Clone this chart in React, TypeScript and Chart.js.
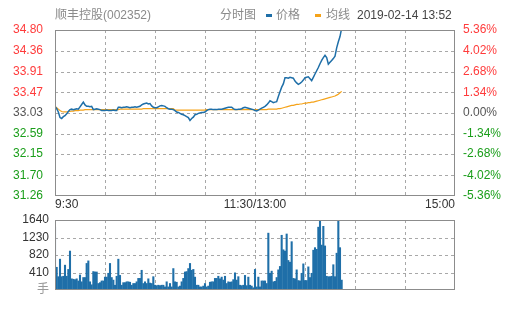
import React, { useEffect, useRef } from "react";
import { Chart, registerables } from "chart.js";
Chart.register(...registerables);

const priceTicks = [31.26, 31.7, 32.15, 32.59, 33.03, 33.47, 33.91, 34.36, 34.8];
const priceTickLabels = ["31.26", "31.70", "32.15", "32.59", "33.03", "33.47", "33.91", "34.36", "34.80"];
const pctTickLabels = ["-5.36%", "-4.02%", "-2.68%", "-1.34%", "0.00%", "1.34%", "2.68%", "4.02%", "5.36%"];
const timeTicks = [0, 30, 60, 90, 120, 150, 180, 210, 240];
const timeTickLabels = ["9:30", "", "", "", "11:30/13:00", "", "", "", "15:00"];
const volTicks = [0, 410, 820, 1230, 1640];
const volTickLabels = ["手", "410", "820", "1230", "1640"];

const price = [
  33.17, 33.12, 33.05, 32.93, 32.91, 32.95, 32.97, 33.01, 33.06, 33.1,
  33.11, 33.1, 33.11, 33.12, 33.11, 33.16, 33.21, 33.26, 33.2, 33.17,
  33.17, 33.16, 33.17, 33.1, 33.11, 33.12, 33.11, 33.1, 33.08, 33.08,
  33.08, 33.09, 33.08, 33.08, 33.08, 33.09, 33.08, 33.08, 33.15, 33.15,
  33.14, 33.15, 33.15, 33.16, 33.15, 33.14, 33.15, 33.15, 33.16, 33.15,
  33.16, 33.17, 33.2, 33.22, 33.23, 33.24, 33.22, 33.23, 33.18, 33.15,
  33.14, 33.14, 33.16, 33.18, 33.19, 33.18, 33.17, 33.14, 33.12, 33.11,
  33.11, 33.1, 33.08, 33.05, 33.04, 33.02, 33.0, 32.99, 32.97, 32.95,
  32.93, 32.87, 32.91, 32.94, 32.99, 33.0, 33.02, 33.03, 33.04, 33.04,
  33.05, 33.08, 33.1, 33.11, 33.11, 33.1, 33.1, 33.1, 33.11, 33.11,
  33.11, 33.12, 33.13, 33.14, 33.15, 33.15, 33.15, 33.12, 33.1, 33.1,
  33.11, 33.11, 33.12, 33.14, 33.15, 33.14, 33.13, 33.12, 33.11, 33.1,
  33.08, 33.07, 33.09, 33.11, 33.13, 33.15, 33.17, 33.2, 33.24, 33.29,
  33.27, 33.25, 33.26, 33.27, 33.38, 33.48, 33.58, 33.65, 33.78, 33.78,
  33.77, 33.79, 33.78, 33.77, 33.71, 33.67, 33.64, 33.66, 33.69, 33.73,
  33.78, 33.79, 33.8, 33.76, 33.72, 33.79, 33.86, 33.93, 34.0, 34.08,
  34.15, 34.21, 34.26, 34.21, 34.07, 34.11, 34.15, 34.19, 34.24, 34.42,
  34.55, 34.66, 34.84,
];

const avgPrice = [
  33.17, 33.14, 33.11, 33.08, 33.06, 33.05, 33.05, 33.05, 33.06, 33.06,
  33.07, 33.07, 33.08, 33.08, 33.08, 33.09, 33.09, 33.09, 33.1, 33.1,
  33.1, 33.1, 33.1, 33.1, 33.1, 33.1, 33.1, 33.1, 33.1, 33.1,
  33.1, 33.1, 33.1, 33.1, 33.1, 33.1, 33.1, 33.1, 33.1, 33.11,
  33.11, 33.11, 33.11, 33.11, 33.11, 33.11, 33.11, 33.11, 33.11, 33.11,
  33.11, 33.11, 33.11, 33.12, 33.12, 33.12, 33.12, 33.12, 33.12, 33.12,
  33.12, 33.12, 33.12, 33.12, 33.12, 33.12, 33.12, 33.12, 33.12, 33.12,
  33.12, 33.12, 33.09, 33.09, 33.09, 33.09, 33.09, 33.09, 33.09, 33.09,
  33.09, 33.09, 33.09, 33.09, 33.09, 33.09, 33.09, 33.09, 33.09, 33.09,
  33.09, 33.1, 33.1, 33.1, 33.1, 33.1, 33.1, 33.1, 33.1, 33.1,
  33.1, 33.1, 33.1, 33.1, 33.1, 33.1, 33.1, 33.1, 33.1, 33.1,
  33.1, 33.1, 33.1, 33.1, 33.1, 33.1, 33.1, 33.1, 33.1, 33.1,
  33.1, 33.1, 33.1, 33.1, 33.1, 33.1, 33.1, 33.1, 33.11, 33.11,
  33.11, 33.11, 33.11, 33.11, 33.12, 33.12, 33.13, 33.14, 33.15, 33.16,
  33.17, 33.18, 33.19, 33.19, 33.2, 33.21, 33.21, 33.22, 33.22, 33.23,
  33.24, 33.24, 33.25, 33.25, 33.26, 33.26, 33.27, 33.28, 33.29, 33.3,
  33.31, 33.32, 33.33, 33.34, 33.35, 33.36, 33.37, 33.38, 33.39, 33.41,
  33.43, 33.46, 33.49,
];

const volume = [
  1480, 540, 320, 730, 320, 330, 590, 330, 490, 920,
  270, 260, 250, 270, 220, 360, 200, 300, 300, 630,
  690, 200, 130, 440, 430, 430, 160, 180, 220, 220,
  310, 310, 400, 630, 300, 240, 120, 330, 730, 350,
  120, 180, 180, 200, 200, 190, 120, 160, 160, 200,
  280, 280, 470, 160, 200, 160, 270, 170, 160, 320,
  120, 110, 120, 110, 120, 120, 80, 200, 80, 160,
  80, 510, 200, 190, 80, 100, 200, 280, 430, 440,
  510, 630, 470, 490, 310, 120, 120, 80, 80, 100,
  160, 80, 100, 190, 200, 200, 280, 280, 330, 270,
  310, 240, 330, 160, 200, 190, 200, 250, 410, 240,
  320, 120, 110, 120, 350, 110, 310, 120, 100, 60,
  490, 80, 310, 80, 220, 220, 220, 160, 1340, 400,
  450, 200, 210, 300, 480, 560, 1290, 950, 920, 1320,
  700, 660, 1140, 280, 270, 480, 230, 220, 400, 620,
  230, 230, 550, 300, 400, 940, 1000, 960, 1480, 1620,
  1060, 1500, 1040, 330, 320, 320, 330, 600, 320, 870,
  1640, 1000, 240,
];

const FONT = '"Liberation Sans", Arial, "Noto Sans CJK SC", sans-serif';
const RED = "#ff3b3b";
const GREEN = "#1a9e1a";
const GRAY = "#555555";
const GRID = "#a8a8a8";
const BOX = "#8c8c8c";
const BLUE = "#1f6fa8";
const ORANGE = "#f5a31a";

const gridBoxPlugin = {
  id: "gridBox",
  afterDraw(chart: any) {
    const { ctx, chartArea: a, scales } = chart;
    const xs = scales.x;
    const ys = scales.y;
    const top = Math.round(a.top);
    const bottom = Math.round(a.bottom);
    const left = Math.round(a.left);
    const right = Math.round(a.right);
    ctx.save();
    ctx.globalCompositeOperation = "destination-over";
    ctx.fillStyle = GRID;
    xs.ticks.forEach((t: any) => {
      const px = Math.round(xs.getPixelForValue(t.value));
      if (px <= left + 1 || px >= right - 1) return;
      for (let y = top; y < bottom; y += 6) ctx.fillRect(px, y, 1, Math.min(3, bottom - y));
    });
    ys.ticks.forEach((t: any) => {
      const py = Math.round(ys.getPixelForValue(t.value));
      if (py <= top + 1 || py >= bottom - 1) return;
      for (let x = left; x < right; x += 6) ctx.fillRect(x, py, Math.min(3, right - x), 1);
    });
    ctx.restore();
    ctx.save();
    ctx.fillStyle = BOX;
    const r = right - 1;
    const b = bottom - 1;
    ctx.fillRect(left, top, r - left + 1, 1);
    ctx.fillRect(left, b, r - left + 1, 1);
    ctx.fillRect(left, top, 1, b - top + 1);
    ctx.fillRect(r, top, 1, b - top + 1);
    ctx.restore();
  },
};

const colorByIndex = (i: number) => (i < 4 ? GREEN : i === 4 ? GRAY : RED);

export default function App() {
  const priceRef = useRef<HTMLCanvasElement>(null);
  const volRef = useRef<HTMLCanvasElement>(null);

  useEffect(() => {
    Chart.defaults.font.family = FONT;
    Chart.defaults.font.size = 12;
    const font = { family: FONT, size: 12 };

    const pc = new Chart(priceRef.current as HTMLCanvasElement, {
      type: "line",
      data: {
        datasets: [
          {
            label: "价格",
            data: price.map((v, i) => ({ x: i, y: v })),
            borderColor: BLUE,
            borderWidth: 1.5,
            pointRadius: 0,
            tension: 0,
            yAxisID: "y",
          },
          {
            label: "均线",
            data: avgPrice.map((v, i) => ({ x: i, y: v })),
            borderColor: ORANGE,
            borderWidth: 1.2,
            pointRadius: 0,
            tension: 0,
            yAxisID: "y",
          },
        ],
      },
      options: {
        animation: false,
        responsive: false,
        events: [],
        layout: { padding: { top: 30, left: 0, right: 0, bottom: 0 } },
        plugins: { legend: { display: false }, tooltip: { enabled: false }, title: { display: false } },
        scales: {
          x: {
            type: "linear",
            min: 0,
            max: 240,
            afterBuildTicks: (s: any) => {
              s.ticks = timeTicks.map((v) => ({ value: v }));
            },
            ticks: {
              callback: (_v: any, i: number) => timeTickLabels[i],
              align: "inner",
              maxRotation: 0,
              autoSkip: false,
              padding: 2,
              color: "#333",
              font,
            },
            grid: { display: false, drawTicks: false },
            border: { display: false },
            afterFit: (s: any) => {
              s.height = 15;
            },
          },
          y: {
            position: "left",
            min: 31.26,
            max: 34.8,
            afterBuildTicks: (s: any) => {
              s.ticks = priceTicks.map((v) => ({ value: v }));
            },
            ticks: {
              callback: (_v: any, i: number) => priceTickLabels[i],
              color: (c: any) => colorByIndex(c.index),
              padding: 12,
              font,
            },
            grid: { display: false, drawTicks: false },
            border: { display: false },
            afterFit: (s: any) => {
              s.width = 55;
            },
          },
          y2: {
            position: "right",
            min: 31.26,
            max: 34.8,
            afterBuildTicks: (s: any) => {
              s.ticks = priceTicks.map((v) => ({ value: v }));
            },
            ticks: {
              callback: (_v: any, i: number) => pctTickLabels[i],
              color: (c: any) => colorByIndex(c.index),
              padding: 8,
              font,
            },
            grid: { display: false, drawTicks: false },
            border: { display: false },
            afterFit: (s: any) => {
              s.width = 50;
            },
          },
        },
      },
      plugins: [gridBoxPlugin],
    } as any);

    const vc = new Chart(volRef.current as HTMLCanvasElement, {
      type: "bar",
      data: {
        datasets: [
          {
            label: "成交量",
            data: volume.map((v, i) => ({ x: i, y: v })),
            backgroundColor: BLUE,
            borderWidth: 0,
            barPercentage: 1.25,
            categoryPercentage: 1,
          },
        ],
      },
      options: {
        animation: false,
        responsive: false,
        events: [],
        layout: { padding: { top: 20, left: 0, right: 50, bottom: 20 } },
        plugins: { legend: { display: false }, tooltip: { enabled: false }, title: { display: false } },
        scales: {
          x: {
            type: "linear",
            min: 0,
            max: 240,
            offset: false,
            afterBuildTicks: (s: any) => {
              s.ticks = timeTicks.map((v) => ({ value: v }));
            },
            ticks: { display: false },
            grid: { display: false, drawTicks: false, offset: false },
            border: { display: false },
            afterFit: (s: any) => {
              s.height = 0;
            },
          },
          y: {
            position: "left",
            min: 0,
            max: 1640,
            afterBuildTicks: (s: any) => {
              s.ticks = volTicks.map((v) => ({ value: v }));
            },
            ticks: {
              callback: (_v: any, i: number) => volTickLabels[i],
              color: (c: any) => (c.index === 0 ? "#999" : "#333"),
              padding: 6,
              font,
            },
            grid: { display: false, drawTicks: false },
            border: { display: false },
            afterFit: (s: any) => {
              s.width = 55;
            },
          },
        },
      },
      plugins: [gridBoxPlugin],
    } as any);

    return () => {
      pc.destroy();
      vc.destroy();
    };
  }, []);

  const txt: React.CSSProperties = {
    position: "absolute",
    top: 8,
    fontFamily: FONT,
    fontSize: 12,
    lineHeight: "14px",
    whiteSpace: "nowrap",
    color: "#8a8a8a",
  };

  return (
    <div style={{ position: "absolute", left: 0, top: 0, width: 505, height: 310, background: "#fff", overflow: "hidden" }}>
      <canvas ref={priceRef} width={505} height={215} style={{ position: "absolute", left: 0, top: 0 }} />
      <canvas ref={volRef} width={505} height={110} style={{ position: "absolute", left: 0, top: 200 }} />
      <span style={{ ...txt, left: 55 }}>顺丰控股(002352)</span>
      <span style={{ ...txt, left: 220 }}>分时图</span>
      <span style={{ position: "absolute", left: 266, top: 14, width: 6, height: 3, background: BLUE }} />
      <span style={{ ...txt, left: 276 }}>价格</span>
      <span style={{ position: "absolute", left: 315, top: 14, width: 6, height: 3, background: ORANGE }} />
      <span style={{ ...txt, left: 326 }}>均线</span>
      <span style={{ ...txt, left: 357, color: "#444" }}>2019-02-14 13:52</span>
    </div>
  );
}
